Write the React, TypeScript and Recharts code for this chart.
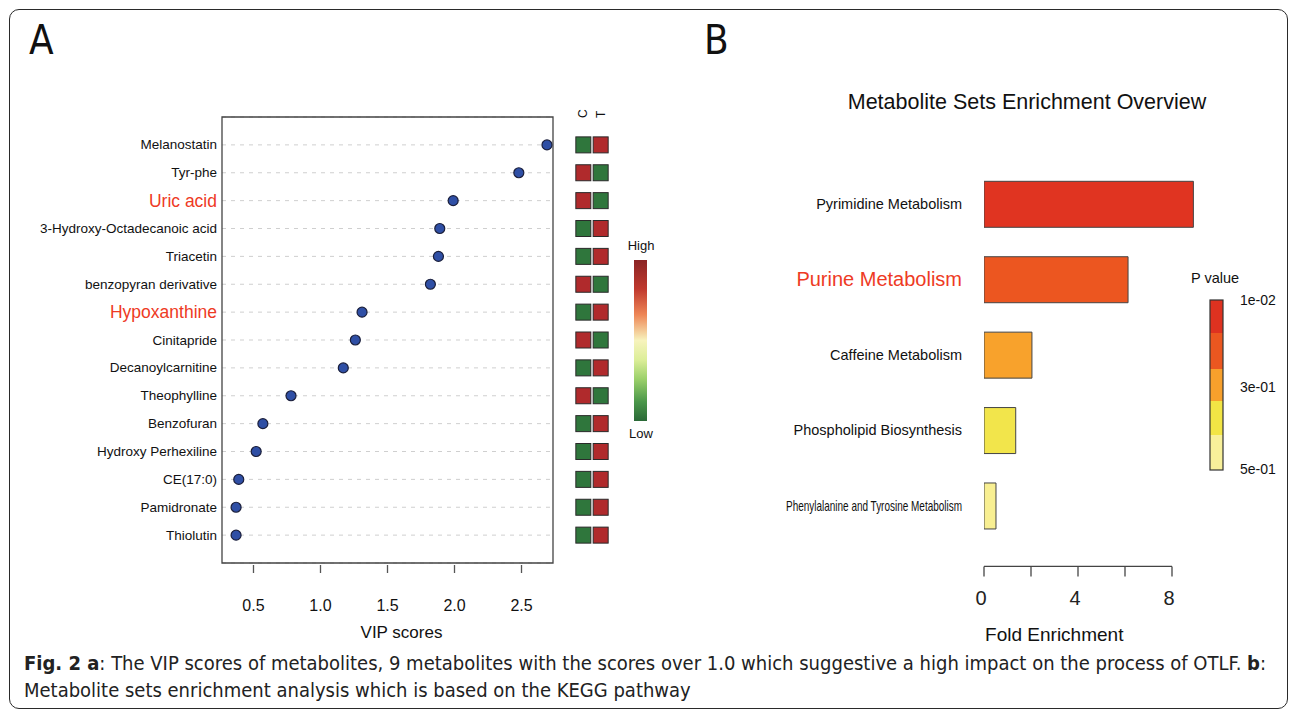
import React from "react";
import {
  ScatterChart,
  Scatter,
  XAxis,
  YAxis,
  CartesianGrid,
  ReferenceArea,
  BarChart,
  Bar,
  Cell,
  Label,
} from "recharts";

// ---- panel A data ----
const metabolites = [
  "Melanostatin",
  "Tyr-phe",
  "Uric acid",
  "3-Hydroxy-Octadecanoic acid",
  "Triacetin",
  "benzopyran derivative",
  "Hypoxanthine",
  "Cinitapride",
  "Decanoylcarnitine",
  "Theophylline",
  "Benzofuran",
  "Hydroxy Perhexiline",
  "CE(17:0)",
  "Pamidronate",
  "Thiolutin",
];
const vipScores = [2.69, 2.48, 1.99, 1.89, 1.88, 1.82, 1.31, 1.26, 1.17, 0.78, 0.57, 0.52, 0.39, 0.37, 0.37];
const highlightedMetabolites = ["Uric acid", "Hypoxanthine"];
const levelC = ["L", "H", "H", "L", "L", "H", "L", "H", "L", "H", "L", "L", "L", "L", "L"];
const levelT = ["H", "L", "L", "H", "H", "L", "H", "L", "H", "L", "H", "H", "H", "H", "H"];
const groups = ["C", "T"];
const vipTicks = [0.5, 1.0, 1.5, 2.0, 2.5];

// ---- panel B data ----
const pathways = [
  "Pyrimidine Metabolism",
  "Purine Metabolism",
  "Caffeine Metabolism",
  "Phospholipid Biosynthesis",
  "Phenylalanine and Tyrosine Metabolism",
];
const foldEnrichment = [8.91, 6.13, 2.04, 1.35, 0.51];
const pathwayColors = ["#e03421", "#ec5620", "#f8a22c", "#f2e54b", "#f8ef92"];
const highlightedPathway = "Purine Metabolism";
const foldTicks = [0, 2, 4, 6, 8];
const foldLabels = [0, 4, 8];
const pValueLabels = ["1e-02", "3e-01", "5e-01"];
const pValueColors = ["#de3220", "#eb5720", "#f7a02c", "#f2e545", "#f8f09a"];

const FONT = "'Liberation Sans', Arial, sans-serif";
const CAPTION_FONT = "'DejaVu Sans Condensed', 'Liberation Sans Narrow', sans-serif";
const RED = "#ee3a24";
const GREEN = "#2f763c";
const DARKRED = "#b02a2c";

const vipData = metabolites.map((name, i) => ({ name, row: i + 1, vip: vipScores[i] }));
const heatData = metabolites.flatMap((name, i) => [
  { name, row: i + 1, col: 1, level: levelC[i] },
  { name, row: i + 1, col: 2, level: levelT[i] },
]);
const pathData = pathways.map((name, i) => ({ name, fold: foldEnrichment[i], color: pathwayColors[i] }));

// layout for panel B
const B_WIDTH = 590;
const B_YAXIS_W = 284;
const FOLD_MAX = 9.3;
const FOLD_UNIT = 23.5;
const B_PLOT_W = FOLD_MAX * FOLD_UNIT;

const MetaboliteTick = (props: any) => {
  const { x, y, payload } = props;
  const name = metabolites[payload.value - 1];
  const hot = highlightedMetabolites.includes(name);
  return (
    <text
      x={x - 5}
      y={y}
      textAnchor="end"
      dominantBaseline="central"
      fontFamily={FONT}
      fontSize={hot ? 17.5 : 13.5}
      fill={hot ? RED : "#111"}
    >
      {name}
    </text>
  );
};

const VipTick = (props: any) => {
  const { x, y, payload } = props;
  return (
    <g>
      <line x1={x} x2={x} y1={y + 2} y2={y + 10} stroke="#555" strokeWidth={1.3} />
      <text x={x} y={y + 48} textAnchor="middle" fontFamily={FONT} fontSize={16} fill="#111">
        {payload.value.toFixed(1)}
      </text>
    </g>
  );
};

const GroupTick = (props: any) => {
  const { x, y, payload } = props;
  const label = groups[payload.value - 1];
  if (!label) return null;
  return (
    <text
      x={x}
      y={y + 1}
      transform={`rotate(-90 ${x} ${y + 1})`}
      textAnchor="start"
      dominantBaseline="central"
      fontFamily={FONT}
      fontSize={12}
      fill="#111"
    >
      {label}
    </text>
  );
};

const PathwayTick = (props: any) => {
  const { x, y, payload } = props;
  const hot = payload.value === highlightedPathway;
  const long = payload.value.length > 30;
  return (
    <text
      x={x - 22}
      y={y}
      textAnchor="end"
      dominantBaseline="central"
      fontFamily={FONT}
      fontSize={hot ? 20 : 14.5}
      fill={hot ? RED : "#111"}
      textLength={long ? 176 : undefined}
      lengthAdjust={long ? "spacingAndGlyphs" : undefined}
    >
      {payload.value}
    </text>
  );
};

const FoldTick = (props: any) => {
  const { x, y, payload } = props;
  const v = payload.value;
  const ay = y + 23;
  return (
    <g>
      {v < 8 && <line x1={x} x2={x + 2 * FOLD_UNIT} y1={ay} y2={ay} stroke="#444" strokeWidth={1.3} />}
      <line x1={x} x2={x} y1={ay} y2={ay + 10} stroke="#444" strokeWidth={1.3} />
      {foldLabels.includes(v) && (
        <text x={x - 3} y={ay + 39} textAnchor="middle" fontFamily={FONT} fontSize={20} fill="#222">
          {v}
        </text>
      )}
    </g>
  );
};

const Dot = (props: any) => (
  <circle cx={props.cx} cy={props.cy} r={5} fill="#2f4fa5" stroke="#1b1f3b" strokeWidth={1.2} />
);

const Square = (props: any) => (
  <rect
    x={props.cx - 7.5}
    y={props.cy - 8}
    width={15}
    height={16}
    fill={props.payload.level === "H" ? DARKRED : GREEN}
    stroke="#2a2a2a"
    strokeWidth={1}
  />
);

const abs = (left: number, top: number): React.CSSProperties => ({ position: "absolute", left, top });

export default function App() {
  return (
    <div
      style={{
        position: "absolute",
        left: 0,
        top: 0,
        width: 1290,
        height: 713,
        background: "#fff",
        overflow: "hidden",
        fontFamily: FONT,
      }}
    >
      <div
        style={{
          position: "absolute",
          left: 9,
          top: 9,
          width: 1277,
          height: 698,
          border: "1.5px solid #2a2a2a",
          borderRadius: 10,
        }}
      />
      <div style={{ ...abs(29, 17), fontFamily: CAPTION_FONT, fontSize: 40, color: "#111" }}>A</div>
      <div style={{ ...abs(704, 17), fontFamily: CAPTION_FONT, fontSize: 40, color: "#111" }}>B</div>

      {/* panel A: VIP dot chart */}
      <div style={abs(0, 0)}>
        <ScatterChart width={700} height={713} margin={{ top: 117, right: 147, bottom: 0, left: 0 }}>
          <CartesianGrid vertical={false} stroke="#cfcfcf" strokeDasharray="4 5" />
          <XAxis
            type="number"
            dataKey="vip"
            domain={[0.265, 2.735]}
            allowDataOverflow
            ticks={vipTicks}
            height={150}
            axisLine={false}
            tickLine={false}
            tickSize={0}
            tickMargin={0}
            tick={<VipTick />}
          >
            <Label
              value="VIP scores"
              position="insideBottom"
              offset={75}
              dx={14}
              style={{ fontFamily: FONT, fontSize: 17, fill: "#111" }}
            />
          </XAxis>
          <YAxis
            type="number"
            dataKey="row"
            domain={[0, 16]}
            reversed
            ticks={metabolites.map((_, i) => i + 1)}
            interval={0}
            width={222}
            axisLine={false}
            tickLine={false}
            tickSize={0}
            tickMargin={0}
            tick={<MetaboliteTick />}
          />
          <ReferenceArea x1={0.265} x2={2.735} y1={0} y2={16} fill="none" stroke="#444" strokeWidth={1.3} />
          <Scatter data={vipData} shape={<Dot />} isAnimationActive={false} />
        </ScatterChart>
      </div>

      {/* panel A: C / T heat columns */}
      <div style={abs(566, 0)}>
        <ScatterChart width={60} height={713} margin={{ top: 97, right: 8, bottom: 150, left: 0 }}>
          <XAxis
            type="number"
            dataKey="col"
            orientation="top"
            domain={[0, 3]}
            ticks={[1, 2]}
            height={20}
            axisLine={false}
            tickLine={false}
            tickSize={0}
            tickMargin={0}
            tick={<GroupTick />}
          />
          <YAxis type="number" dataKey="row" domain={[0, 16]} reversed hide />
          <Scatter data={heatData} shape={<Square />} isAnimationActive={false} />
        </ScatterChart>
      </div>

      {/* panel A: High/Low colour key */}
      <svg style={abs(620, 230)} width={45} height={215}>
        <defs>
          <linearGradient id="hl" x1="0" y1="0" x2="0" y2="1">
            <stop offset="0" stopColor="#8a2424" />
            <stop offset="0.18" stopColor="#c0392e" />
            <stop offset="0.34" stopColor="#ee8656" />
            <stop offset="0.5" stopColor="#f7f3bd" />
            <stop offset="0.62" stopColor="#dcee98" />
            <stop offset="0.74" stopColor="#9bd06a" />
            <stop offset="0.88" stopColor="#4b974a" />
            <stop offset="1" stopColor="#2a6937" />
          </linearGradient>
        </defs>
        <text x={21} y={20} textAnchor="middle" fontFamily={FONT} fontSize={13} fill="#111">High</text>
        <rect x={14} y={30} width={13} height={161} fill="url(#hl)" />
        <text x={21} y={208} textAnchor="middle" fontFamily={FONT} fontSize={13} fill="#111">Low</text>
      </svg>

      {/* panel B */}
      <div style={{ ...abs(700, 90), width: 590, textAlign: "center" }}>
        <span style={{ position: "relative", left: 32, fontSize: 21.5, color: "#111" }}>
          Metabolite Sets Enrichment Overview
        </span>
      </div>
      <div style={abs(700, 0)}>
        <BarChart
          layout="vertical"
          data={pathData}
          width={B_WIDTH}
          height={713}
          margin={{ top: 166.3, right: B_WIDTH - B_YAXIS_W - B_PLOT_W, bottom: 0, left: 0 }}
        >
          <XAxis
            type="number"
            domain={[0, FOLD_MAX]}
            allowDataOverflow
            ticks={foldTicks}
            height={169.6}
            axisLine={false}
            tickLine={false}
            tickSize={0}
            tickMargin={0}
            tick={<FoldTick />}
          >
            <Label
              value="Fold Enrichment"
              position="insideBottom"
              offset={72}
              dx={-39}
              style={{ fontFamily: FONT, fontSize: 19, fill: "#111" }}
            />
          </XAxis>
          <YAxis
            type="category"
            dataKey="name"
            width={B_YAXIS_W}
            axisLine={false}
            tickLine={false}
            tickSize={0}
            tickMargin={0}
            interval={0}
            tick={<PathwayTick />}
          />
          <Bar dataKey="fold" barSize={46} stroke="#444" strokeWidth={1} isAnimationActive={false}>
            {pathData.map((d, i) => (
              <Cell key={`cell-${i}`} fill={d.color} />
            ))}
          </Bar>
        </BarChart>
      </div>

      {/* panel B: P value key */}
      <svg style={abs(1170, 265)} width={120} height={215}>
        <text x={45} y={18} textAnchor="middle" fontFamily={FONT} fontSize={14.5} fill="#111">P value</text>
        {[
          [35, 33],
          [68, 36],
          [104, 32],
          [136, 34],
          [170, 35],
        ].map(([top, h], i) => (
          <rect key={i} x={40} y={top} width={13} height={h} fill={pValueColors[i]} />
        ))}
        <rect x={40} y={35} width={13} height={170} fill="none" stroke="#333" strokeWidth={1.2} />
        {pValueLabels.map((t, i) => (
          <text key={t} x={70} y={[35, 122, 204][i]} dominantBaseline="central" fontFamily={FONT} fontSize={14} fill="#111">
            {t}
          </text>
        ))}
      </svg>

      {/* caption */}
      <div
        style={{
          ...abs(24, 650),
          width: 1262,
          fontFamily: CAPTION_FONT,
          fontSize: 20,
          lineHeight: "27px",
          color: "#222",
          whiteSpace: "nowrap",
        }}
      >
        <b>Fig. 2 a</b>: The VIP scores of metabolites, 9 metabolites with the scores over 1.0 which suggestive a high
        impact on the process of OTLF. <b>b</b>:
        <br />
        Metabolite sets enrichment analysis which is based on the KEGG pathway
      </div>
    </div>
  );
}
